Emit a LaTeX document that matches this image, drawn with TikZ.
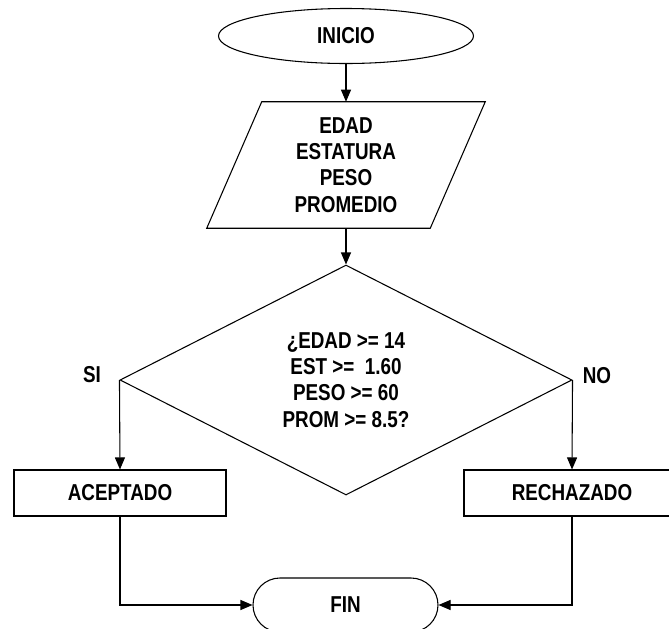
\documentclass[tikz,border=0pt]{standalone}
\usepackage{fontspec}
\setmainfont{Liberation Sans}[FakeStretch=0.82]
\usetikzlibrary{shapes.geometric,shapes.misc,arrows.meta,calc}
\begin{document}
\begin{tikzpicture}[x=0.75pt,y=-0.75pt,
  every node/.style={font=\fontsize{17.25pt}{19.7pt}\selectfont\bfseries, align=center, inner sep=0pt},
  line/.style={draw=black, line width=0.8pt},
  arr/.style={line, -{Triangle[length=9pt,width=7.5pt]}},
  term/.style={ellipse, draw, line width=0.8pt, minimum width=191.25pt, minimum height=41.25pt},
  iobox/.style={minimum width=167.25pt, minimum height=94.5pt},
  decis/.style={diamond, draw, line width=0.8pt, shape aspect=2, minimum width=339pt, minimum height=172.5pt},
  proc/.style={rectangle, draw, line width=0.8pt, minimum height=34.5pt},
  endterm/.style={rounded rectangle, draw, line width=0.8pt, minimum width=138.75pt, minimum height=40.5pt}
]
\useasboundingbox (0,0) rectangle (669,629);
\fill[white] (0,0) rectangle (669,629);
\node[term] (inicio) at (346,36) {INICIO};
\node[iobox] (datos) at (346,165) {EDAD\\ESTATURA\\PESO\\PROMEDIO};
\draw[line] ($(datos.north west)+(27.5,0)$) -- ($(datos.north east)+(27.5,0)$) -- ($(datos.south east)+(-27.5,0)$) -- ($(datos.south west)+(-27.5,0)$) -- cycle;
\node[decis] (cond) at (346,380) {¿EDAD >= 14\\EST >=\ \ 1.60\\PESO >= 60\\PROM >= 8.5?};
\node[proc, minimum width=159pt] (acep) at (120,493) {ACEPTADO};
\node[proc, minimum width=162pt] (rech) at (572,493) {RECHAZADO};
\node[endterm] (fin) at (345.5,605) {FIN};
\node (si) at (92,375) {SI};
\node (no) at (597,376) {NO};
\draw[arr] (inicio.south) -- (datos.north);
\draw[arr] (datos.south) -- (cond.north);
\draw[arr] (cond.west) -- (acep.north);
\draw[arr] (cond.east) -- (rech.north);
\draw[arr] (acep.south) |- (fin.west);
\draw[arr] (rech.south) |- (fin.east);
\end{tikzpicture}
\end{document}
